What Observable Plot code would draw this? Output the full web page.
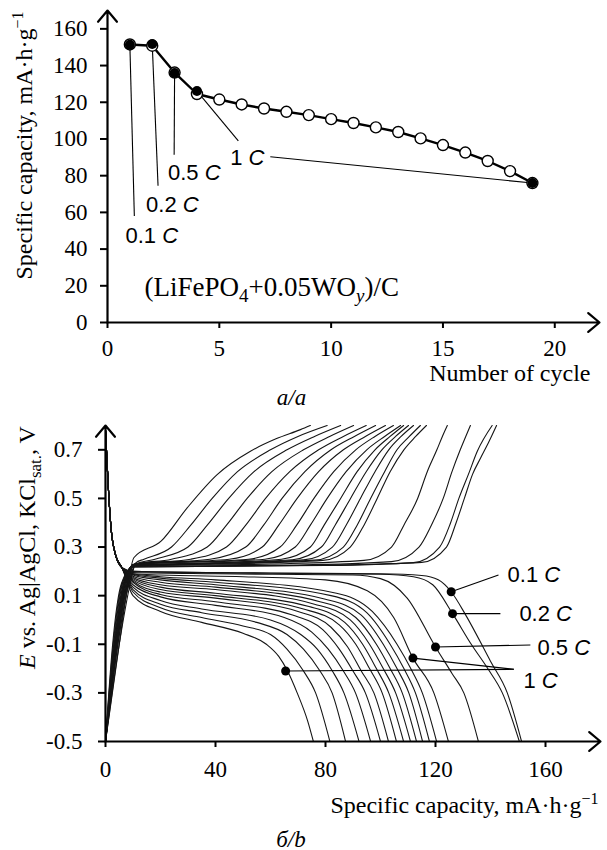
<!DOCTYPE html>
<html><head><meta charset="utf-8">
<script src="https://cdn.jsdelivr.net/npm/d3@7"></script>
<script src="https://cdn.jsdelivr.net/npm/@observablehq/plot@0.6"></script>
<style>body{margin:0;background:#fff} svg{display:block}</style>
</head><body><div id="chart"></div>
<script>
// ---------- Panel a: capacity vs cycle ----------
const cycleNumbers = [1,2,3,4,5,6,7,8,9,10,11,12,13,14,15,16,17,18,19];
const capacityAll = [151.5,150.8,136.2,124.5,121.5,118.8,116.6,114.8,113.0,110.8,108.7,106.3,103.8,100.3,96.7,92.6,88.0,82.5,76.0];
const rateCycles = [1,2,3,4,19];
const capacityRate = [151.3,151.7,135.9,126.1,76.0];
const xTicksA = [0,5,10,15,20];
const yTicksA = [0,20,40,60,80,100,120,140,160];
const xDomainA = [0,22];
const yDomainA = [0,170];
// annotation leaders (data coordinates)
const leadersA = [
  {x1:1, y1:151.3, x2:1.2, y2:58},
  {x1:2, y1:151.7, x2:2.26, y2:74.5},
  {x1:3, y1:135.9, x2:2.98, y2:91.4},
  {x1:4, y1:126.1, x2:5.85, y2:99},
  {x1:7.28, y1:90.3, x2:19, y2:76.0}
];
const labelsA = [
  {x:1.98, y:47.2, text:"0.1 C"},
  {x:2.9, y:64.1, text:"0.2 C"},
  {x:3.88, y:81.6, text:"0.5 C"},
  {x:6.25, y:89.8, text:"1 C"}
];

// ---------- Panel b: E vs specific capacity ----------
const xTicksB = [0,40,80,120,160];
const yTicksB = [-0.5,-0.3,-0.1,0.1,0.3,0.5,0.7];
const xDomainB = [0,180];
const yDomainB = [-0.5,0.8];

const chargeCurves = [
  [[0,-0.5],[5,-0.1],[8.5,0.17],[10.3,0.256],[20.2,0.324],[29.7,0.461],[40.6,0.598],[52.7,0.694],[62,0.745],[70.9,0.783],[74.5,0.8]],
  [[0,-0.5],[5,-0.1],[9,0.15],[11,0.235],[14,0.25],[24,0.3],[31,0.39],[38.8,0.5],[48,0.61],[60,0.7],[70,0.755],[80.6,0.8]],
  [[0,-0.5],[4.5,-0.1],[8.5,0.15],[11,0.23],[18,0.25],[30,0.3],[37,0.39],[44.8,0.5],[54,0.61],[66,0.7],[76,0.755],[85.5,0.8]],
  [[0,-0.5],[4.5,-0.1],[8.5,0.15],[11,0.23],[24,0.25],[37,0.3],[44,0.39],[51.5,0.5],[60.5,0.61],[72,0.7],[81.5,0.755],[90.2,0.8]],
  [[0,-0.5],[4.2,-0.1],[8,0.15],[10.5,0.23],[31,0.25],[44,0.3],[51,0.39],[58.2,0.5],[67,0.61],[77.5,0.7],[86.5,0.755],[94.8,0.8]],
  [[0,-0.5],[4.2,-0.1],[8,0.15],[10.5,0.23],[38,0.25],[51,0.3],[57.5,0.39],[64.2,0.5],[72.5,0.61],[82,0.7],[90.5,0.755],[98.2,0.8]],
  [[0,-0.5],[4,-0.1],[7.8,0.15],[10.5,0.23],[45,0.25],[57,0.3],[63,0.39],[69.7,0.5],[77.5,0.61],[86.5,0.7],[94.5,0.755],[101.8,0.8]],
  [[0,-0.5],[4,-0.1],[7.5,0.15],[10,0.228],[52,0.25],[63.5,0.3],[69.5,0.39],[75.8,0.5],[83,0.61],[91,0.7],[98,0.755],[104.7,0.8]],
  [[0,-0.5],[3.8,-0.1],[7.5,0.15],[10,0.228],[58,0.25],[69,0.3],[74.5,0.39],[80.6,0.5],[87.5,0.61],[95,0.7],[101.5,0.755],[107.3,0.8]],
  [[0,-0.5],[3.8,-0.1],[7.2,0.15],[10,0.226],[40,0.235],[64,0.25],[74.5,0.3],[79.5,0.39],[85.5,0.5],[91.5,0.61],[98,0.7],[103.5,0.755],[108.4,0.8]],
  [[0,-0.5],[3.6,-0.1],[7,0.15],[10,0.226],[40,0.235],[68,0.248],[78.5,0.3],[83.5,0.39],[89.1,0.5],[94.8,0.61],[100.5,0.7],[105.5,0.755],[110.2,0.8]],
  [[0,-0.5],[3.5,-0.1],[7,0.15],[10,0.225],[40,0.233],[72,0.247],[82.5,0.3],[87.5,0.39],[92.7,0.5],[98,0.61],[103,0.7],[107.5,0.755],[112,0.8]],
  [[0,-0.5],[3.4,-0.1],[6.8,0.15],[10,0.224],[40,0.232],[76,0.246],[86.5,0.3],[91.5,0.39],[96.4,0.5],[101.5,0.61],[106,0.7],[110.5,0.755],[114.5,0.8]],
  [[0,-0.5],[3.3,-0.1],[6.6,0.15],[10,0.223],[40,0.23],[79,0.245],[89,0.3],[94,0.39],[98.8,0.5],[103.5,0.61],[108.5,0.7],[112.8,0.755],[116.7,0.8]],
  [[0,-0.5],[3.2,-0.1],[6.5,0.15],[10,0.222],[60,0.23],[94,0.245],[104,0.3],[108.5,0.39],[113.5,0.5],[117,0.61],[120.5,0.7],[122.5,0.755],[124.3,0.8]],
  [[0,-0.5],[3,-0.1],[6.2,0.15],[10,0.22],[70,0.226],[104,0.24],[114,0.3],[118.5,0.39],[122.8,0.5],[126,0.61],[129,0.7],[131,0.755],[132.7,0.8]],
  [[0,-0.5],[2.8,-0.1],[6,0.15],[10,0.218],[80,0.224],[112,0.236],[121.5,0.3],[125.5,0.4],[128.5,0.5],[132,0.6],[135.2,0.694],[140.6,0.8]],
  [[0,-0.5],[2.6,-0.1],[5.8,0.15],[10,0.218],[80,0.225],[115,0.237],[124,0.3],[127.5,0.4],[130.5,0.5],[133.5,0.6],[136.4,0.666],[139.5,0.735],[142.2,0.8]]
];

const dischargeStart = [[0,0.78],[1,0.55],[2,0.38],[3.6,0.27],[6,0.215]];
const dischargeTails = [
  [[10,0.10],[20,0.035],[35,-0.01],[50,-0.055],[58.5,-0.1],[63,-0.15],[66.2,-0.21],[69.7,-0.3],[73.5,-0.415],[75.6,-0.5]],
  [[10,0.115],[20,0.05],[35,0.01],[50,-0.025],[60,-0.06],[66,-0.12],[72,-0.21],[76.4,-0.3],[81.6,-0.5]],
  [[10,0.125],[20,0.065],[35,0.03],[55,-0.01],[66,-0.06],[72,-0.12],[78,-0.21],[82.4,-0.3],[87.3,-0.5]],
  [[10,0.135],[20,0.08],[35,0.045],[60,0.0],[71,-0.06],[77,-0.12],[82.5,-0.21],[86.7,-0.3],[92.2,-0.5]],
  [[10,0.145],[20,0.095],[40,0.06],[65,0.01],[75,-0.05],[81,-0.12],[86.5,-0.21],[90.9,-0.3],[96.4,-0.5]],
  [[10,0.155],[20,0.105],[40,0.075],[68,0.02],[79,-0.04],[85,-0.12],[90,-0.21],[94.5,-0.3],[100,-0.5]],
  [[10,0.16],[20,0.115],[40,0.09],[70,0.035],[82,-0.03],[88,-0.11],[93,-0.21],[97.6,-0.3],[102.9,-0.5]],
  [[10,0.165],[20,0.125],[40,0.1],[72,0.045],[85,-0.02],[91,-0.1],[96,-0.2],[100.6,-0.3],[105.8,-0.5]],
  [[10,0.17],[20,0.135],[40,0.11],[74,0.055],[87,-0.01],[93.5,-0.1],[98.5,-0.2],[103,-0.3],[108.4,-0.5]],
  [[10,0.175],[20,0.145],[40,0.125],[76,0.065],[89,0.0],[96,-0.1],[101,-0.2],[105.5,-0.3],[110.9,-0.5]],
  [[10,0.18],[20,0.155],[40,0.135],[78,0.075],[91,0.01],[98.5,-0.1],[103.5,-0.2],[107.9,-0.3],[113.1,-0.5]],
  [[10,0.185],[20,0.165],[40,0.145],[80,0.085],[93,0.02],[101,-0.1],[106,-0.2],[110.3,-0.3],[115.3,-0.5]],
  [[10,0.188],[20,0.172],[40,0.155],[82,0.1],[95,0.03],[103.5,-0.1],[108.5,-0.2],[112.7,-0.3],[117.8,-0.5]],
  [[10,0.19],[20,0.178],[40,0.165],[84,0.11],[97,0.035],[106,-0.1],[111,-0.2],[115.2,-0.3],[120.4,-0.5]],
  [[10,0.19],[20,0.185],[50,0.178],[80,0.165],[95.2,0.12],[104.8,0.01],[111.8,-0.157],[119.4,-0.3],[124.7,-0.5]],
  [[10,0.195],[40,0.19],[90,0.185],[100,0.17],[109.7,0.09],[120,-0.111],[126,-0.22],[130.3,-0.3],[135.6,-0.5]],
  [[10,0.2],[60,0.192],[100,0.188],[112,0.178],[119,0.145],[126.2,0.026],[133,-0.1],[139,-0.2],[144.3,-0.3],[150.5,-0.5]],
  [[10,0.2],[60,0.193],[100,0.19],[115,0.183],[121,0.165],[125.7,0.116],[131,0.02],[140,-0.17],[146.1,-0.3],[151.3,-0.5]]
];

const markersB = [
  {cap:125.7, E:0.116}, {cap:126.2, E:0.026}, {cap:120, E:-0.111},
  {cap:111.8, E:-0.157}, {cap:65.5, E:-0.21}
];
const leadersB = [
  {x1:125.7, y1:0.116, x2:142.9, y2:0.185},
  {x1:126.2, y1:0.026, x2:143.6, y2:0.026},
  {x1:120, y1:-0.111, x2:154.5, y2:-0.103},
  {x1:111.8, y1:-0.157, x2:148.5, y2:-0.203},
  {x1:65.5, y1:-0.21, x2:148.5, y2:-0.203}
];
const labelsB = [
  {x:146.2, y:0.185, text:"0.1 C"},
  {x:150.5, y:0.026, text:"0.2 C"},
  {x:157.1, y:-0.114, text:"0.5 C"},
  {x:152, y:-0.251, text:"1 C"}
];

// ---------- helpers ----------
const serif = "Liberation Serif";
const sans = "Liberation Sans";
const SUP = '<tspan dy="-9" font-size="16">\u22121</tspan>';
const richMap = {
  "0.1 C": '0.1 <tspan font-style="italic">C</tspan>',
  "0.2 C": '0.2 <tspan font-style="italic">C</tspan>',
  "0.5 C": '0.5 <tspan font-style="italic">C</tspan>',
  "1 C": '1 <tspan font-style="italic">C</tspan>',
  "(LiFePO4+0.05WOy)/C": '(LiFePO<tspan dy="6" font-size="19">4</tspan><tspan dy="-6">+0.05WO</tspan><tspan dy="6" font-size="19" font-style="italic">y</tspan><tspan dy="-6">)/C</tspan>',
  "Specific capacity, mA·h·g-1": 'Specific capacity, mA·h·g' + SUP,
  "E vs. Ag|AgCl, KClsat., V": '<tspan font-style="italic">E</tspan> vs. Ag|AgCl, KCl<tspan dy="6" font-size="17">sat.</tspan><tspan dy="-6">, V</tspan>'
};
function enrich(svg) {
  svg.querySelectorAll("text").forEach(t => {
    const k = t.textContent;
    if (richMap[k] !== undefined) t.innerHTML = richMap[k];
  });
}
const serifText = {fontFamily: serif, fontSize: 23, fill: "#000"};

// ---------- Panel a ----------
const rowsAll = cycleNumbers.map((c, i) => ({cycle: c, cap: capacityAll[i]}));
const rowsRate = rateCycles.map((c, i) => ({cycle: c, cap: capacityRate[i]}));
const axesA = [
  {x1: xDomainA[0], y1: yDomainA[0], x2: xDomainA[1], y2: yDomainA[0]},
  {x1: xDomainA[0], y1: yDomainA[0], x2: xDomainA[0], y2: yDomainA[1]}
];

const plotA = Plot.plot({
  width: 607, height: 410,
  marginTop: 10, marginLeft: 107, marginRight: 8, marginBottom: 88,
  x: {domain: xDomainA}, y: {domain: yDomainA},
  style: {fontFamily: serif, fontSize: "23px", color: "#000", background: "#fff", overflow: "visible"},
  marks: [
    Plot.axisX({ticks: xTicksA, tickSize: 6, tickPadding: 11, tickFormat: d => String(d), strokeWidth: 2, ...serifText}),
    Plot.axisY({ticks: yTicksA, tickSize: 7, tickPadding: 13, tickFormat: d => String(d), strokeWidth: 2, ...serifText}),
    Plot.arrow(axesA, {x1: "x1", y1: "y1", x2: "x2", y2: "y2", stroke: "#000", strokeWidth: 2.2, headLength: 10, headAngle: 80}),
    Plot.link(leadersA, {x1: "x1", y1: "y1", x2: "x2", y2: "y2", stroke: "#000", strokeWidth: 1.1}),
    Plot.line(rowsAll, {x: "cycle", y: "cap", stroke: "#000", strokeWidth: 2.4}),
    Plot.dot(rowsAll, {x: "cycle", y: "cap", r: 5.5, fill: "#fff", stroke: "#000", strokeWidth: 1.4}),
    Plot.dot(rowsRate, {x: "cycle", y: "cap", r: 5, fill: "#000"}),
    Plot.text(labelsA, {x: "x", y: "y", text: "text", fontFamily: sans, fontSize: 22, fill: "#000"}),
    Plot.text(["(LiFePO4+0.05WOy)/C"], {text: d => d, frameAnchor: "bottom-left", dx: 37, dy: -27, textAnchor: "start", ...serifText, fontSize: 27}),
    Plot.text(["Number of cycle"], {text: d => d, frameAnchor: "bottom-right", dx: -9, dy: 58, textAnchor: "end", lineAnchor: "bottom", ...serifText, fontSize: 24}),
    Plot.text(["Specific capacity, mA·h·g-1"], {text: d => d, frameAnchor: "left", textAnchor: "middle", lineAnchor: "middle", rotate: -90, dx: -83, dy: -21, ...serifText, fontSize: 24}),
    Plot.text(["a/a"], {text: d => d, frameAnchor: "bottom", textAnchor: "middle", dx: -62, dy: 82, lineAnchor: "bottom", fontStyle: "italic", ...serifText})
  ]
});

// ---------- Panel b ----------
const chargeRows = chargeCurves.flatMap((pts, i) => pts.map(([cap, E]) => ({cap, E, id: "ch" + i})));
const dischargeRows = dischargeTails.flatMap((pts, i) => dischargeStart.concat(pts).map(([cap, E]) => ({cap, E, id: "dis" + i})));
const axesB = [
  {x1: xDomainB[0], y1: yDomainB[0], x2: xDomainB[1], y2: yDomainB[0]},
  {x1: xDomainB[0], y1: yDomainB[0], x2: xDomainB[0], y2: yDomainB[1]}
];

const plotB = Plot.plot({
  width: 607, height: 440,
  marginTop: 15, marginLeft: 105, marginRight: 7, marginBottom: 109,
  x: {domain: xDomainB}, y: {domain: yDomainB},
  style: {fontFamily: serif, fontSize: "23px", color: "#000", background: "#fff", overflow: "visible"},
  marks: [
    Plot.line(chargeRows, {x: "cap", y: "E", z: "id", curve: "monotone-x", stroke: "#151515", strokeWidth: 1.1, clip: true}),
    Plot.line(dischargeRows, {x: "cap", y: "E", z: "id", curve: "monotone-x", stroke: "#151515", strokeWidth: 1.1, clip: true}),
    Plot.axisX({ticks: xTicksB, tickSize: 6, tickPadding: 13, tickFormat: d => String(d), strokeWidth: 2, ...serifText}),
    Plot.axisY({ticks: yTicksB, tickSize: 7, tickPadding: 16, tickFormat: d => d.toFixed(1), strokeWidth: 2, ...serifText}),
    Plot.arrow(axesB, {x1: "x1", y1: "y1", x2: "x2", y2: "y2", stroke: "#000", strokeWidth: 2.2, headLength: 10, headAngle: 80}),
    Plot.link(leadersB, {x1: "x1", y1: "y1", x2: "x2", y2: "y2", stroke: "#000", strokeWidth: 1.1}),
    Plot.dot(markersB, {x: "cap", y: "E", r: 4.5, fill: "#000"}),
    Plot.text(labelsB, {x: "x", y: "y", text: "text", textAnchor: "start", fontFamily: sans, fontSize: 22, fill: "#000"}),
    Plot.text(["Specific capacity, mA·h·g-1"], {text: d => d, frameAnchor: "bottom-right", dx: -2, dy: 71, textAnchor: "end", lineAnchor: "bottom", ...serifText, fontSize: 24}),
    Plot.text(["E vs. Ag|AgCl, KClsat., V"], {text: d => d, frameAnchor: "left", textAnchor: "middle", lineAnchor: "middle", rotate: -90, dx: -78, dy: -36, ...serifText, fontSize: 24}),
    Plot.text(["б/b"], {text: d => d, frameAnchor: "bottom", textAnchor: "middle", dx: -62, dy: 105, lineAnchor: "bottom", fontStyle: "italic", ...serifText})
  ]
});

enrich(plotA);
enrich(plotB);
const root = document.getElementById("chart");
root.appendChild(plotA);
root.appendChild(plotB);
</script>
</body></html>
